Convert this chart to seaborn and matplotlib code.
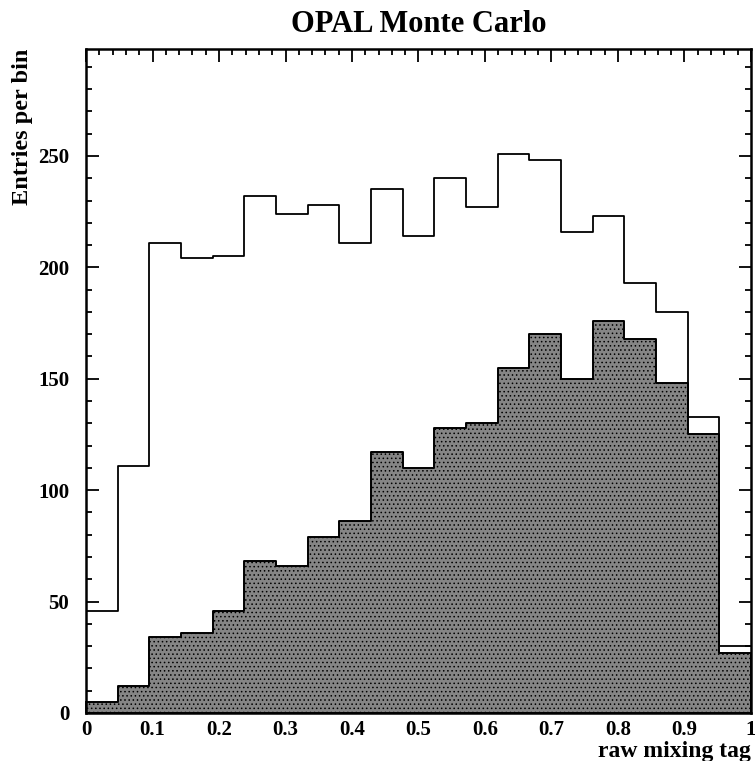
import numpy as np
import pandas as pd
import seaborn as sns
import matplotlib.pyplot as plt
from matplotlib.ticker import MultipleLocator

# ----- histogram contents (21 bins between 0 and 1) ----- #
n_bins = 21
all_entries = [46, 111, 211, 204, 205, 232, 224, 228, 211, 235, 214,
               240, 227, 251, 248, 216, 223, 193, 180, 133, 30]
tagged_entries = [5, 12, 34, 36, 46, 68, 66, 79, 86, 117, 110,
                  128, 130, 155, 170, 150, 176, 168, 148, 125, 27]
bin_centers = (np.arange(n_bins) + 0.5) / n_bins

x_ticks = [0, 0.1, 0.2, 0.3, 0.4, 0.5, 0.6, 0.7, 0.8, 0.9, 1]
x_tick_labels = ['0', '0.1', '0.2', '0.3', '0.4', '0.5', '0.6', '0.7', '0.8', '0.9', '1']
y_ticks = [0, 50, 100, 150, 200, 250]

df = pd.DataFrame({'tag': bin_centers, 'all': all_entries, 'tagged': tagged_entries})

# ----- style ----- #
sns.set_style('ticks')
plt.rcParams['font.family'] = ['Liberation Serif', 'DejaVu Serif']
plt.rcParams['font.weight'] = 'bold'
plt.rcParams['text.color'] = 'black'
plt.rcParams['axes.labelcolor'] = 'black'
plt.rcParams['xtick.color'] = 'black'
plt.rcParams['ytick.color'] = 'black'
plt.rcParams['hatch.linewidth'] = 0.6

fig = plt.figure(figsize=(7.55, 7.61), dpi=100)
ax = fig.add_axes([86 / 755, 1 - 713 / 761, 665 / 755, 664 / 761])

# ----- filled histogram ----- #
sns.histplot(data=df, x='tag', weights='tagged', bins=n_bins, binrange=(0, 1),
             element='step', fill=True, color='#858585', edgecolor='black',
             linewidth=1.4, alpha=1, hatch='....', ax=ax)

# ----- open histogram ----- #
sns.histplot(data=df, x='tag', weights='all', bins=n_bins, binrange=(0, 1),
             element='step', fill=False, color='black', linewidth=1.3, ax=ax)

ax.set_xlim(0, 1)
ax.set_ylim(0, 298)
ax.set_xticks(x_ticks)
ax.set_xticklabels(x_tick_labels)
ax.set_yticks(y_ticks)
ax.xaxis.set_minor_locator(MultipleLocator(0.02))
ax.yaxis.set_minor_locator(MultipleLocator(10))
ax.tick_params(which='both', direction='in', top=True, right=True, width=1.3,
               color='black', labelcolor='black')
ax.tick_params(which='major', length=9, labelsize=15)
ax.tick_params(which='minor', length=4.5)
ax.tick_params(axis='x', pad=5)
ax.tick_params(axis='y', pad=12)
for sp in ax.spines.values():
    sp.set_linewidth(1.8)
    sp.set_color('black')

ax.set_title('OPAL Monte Carlo', fontsize=22, fontweight='bold', pad=12, color='black')
ax.set_xlabel('raw mixing tag', fontsize=17, fontweight='bold', loc='right', color='black')
ax.xaxis.set_label_coords(1.0, -0.042)
ax.set_ylabel('Entries per bin', fontsize=17.5, fontweight='bold', loc='top', color='black')
ax.yaxis.set_label_coords(-0.08, 1.0)

fig.savefig('out.png', dpi=100)
